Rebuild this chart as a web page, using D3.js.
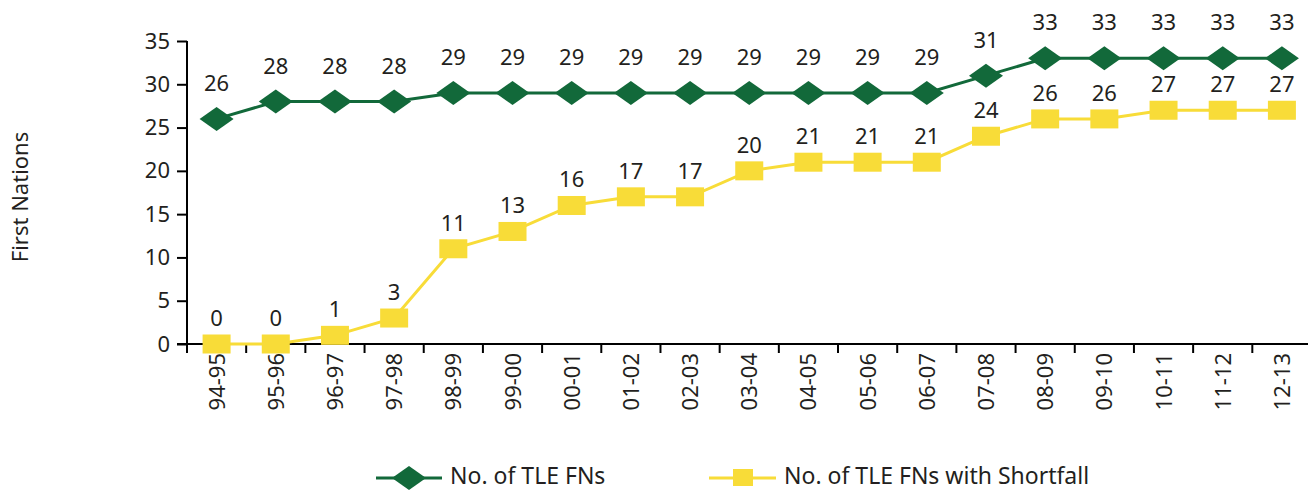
<!DOCTYPE html>
<html><head><meta charset="utf-8">
<script src="https://cdn.jsdelivr.net/npm/d3@7"></script>
<style>body{margin:0;background:#fff}svg{display:block;font-family:"Noto Sans",sans-serif}</style>
</head><body><svg id="c" width="1308" height="492"></svg>
<script>
const categories=["94-95","95-96","96-97","97-98","98-99","99-00","00-01","01-02","02-03","03-04","04-05","05-06","06-07","07-08","08-09","09-10","10-11","11-12","12-13"];
const tleFNs=[26,28,28,28,29,29,29,29,29,29,29,29,29,31,33,33,33,33,33];
const tleShortfall=[0,0,1,3,11,13,16,17,17,20,21,21,21,24,26,26,27,27,27];
const yTicks=[0,5,10,15,20,25,30,35];
const seriesNames=["No. of TLE FNs","No. of TLE FNs with Shortfall"];
const green="#12693a", yellow="#f8dc38", ink="#231f20";
const svg=d3.select("#c");
const x=d3.scaleBand().domain(categories).range([187,1311.5]).padding(0);
const y=d3.scaleLinear().domain([0,35]).range([344,41]);
const cx=d=>x(d)+x.bandwidth()/2;
// y axis
const ya=svg.append("g").attr("transform","translate(187,0)").call(d3.axisLeft(y).tickValues(yTicks).tickSize(10).tickPadding(7));
ya.select(".domain").attr("stroke","#000").attr("stroke-width",2).attr("d","M0,41V344");
ya.selectAll(".tick line").attr("stroke","#000").attr("stroke-width",2);
ya.selectAll("text").attr("font-size",22).attr("fill",ink).attr("font-family","Noto Sans");
// x axis
const xa=svg.append("g").attr("transform","translate(0,344)");
xa.append("line").attr("x1",177).attr("x2",1308).attr("stroke","#000").attr("stroke-width",2);
xa.selectAll("line.t").data(categories.concat(["__end"])).enter().append("line")
 .attr("x1",(d,i)=>187+i*x.bandwidth()).attr("x2",(d,i)=>187+i*x.bandwidth()).attr("y1",0).attr("y2",9).attr("stroke","#000").attr("stroke-width",2);
xa.selectAll("text").data(categories).enter().append("text")
 .attr("transform",d=>`translate(${cx(d)+8},9) rotate(-90)`).attr("text-anchor","end")
 .attr("font-size",22).attr("fill",ink).text(d=>d);
// y title
svg.append("text").attr("transform","translate(28,197) rotate(-90)").attr("text-anchor","middle").attr("font-size",22).attr("fill",ink).text("First Nations");
// lines
const line=d3.line().x((d,i)=>cx(categories[i])).y(d=>y(d));
svg.append("path").datum(tleFNs).attr("d",line).attr("fill","none").attr("stroke",green).attr("stroke-width",3);
svg.append("path").datum(tleShortfall).attr("d",line).attr("fill","none").attr("stroke",yellow).attr("stroke-width",3);
const diamond=(px,py)=>`M${px-17},${py}L${px},${py-12}L${px+17},${py}L${px},${py+12}Z`;
svg.selectAll("path.dm").data(tleFNs).enter().append("path").attr("d",(d,i)=>diamond(cx(categories[i]),y(d))).attr("fill",green);
svg.selectAll("rect.sq").data(tleShortfall).enter().append("rect")
 .attr("x",(d,i)=>cx(categories[i])-14).attr("y",d=>y(d)-9.5).attr("width",28).attr("height",19).attr("fill",yellow);
// labels
svg.selectAll("text.l1").data(tleFNs).enter().append("text").attr("x",(d,i)=>cx(categories[i])).attr("y",d=>y(d)-28)
 .attr("text-anchor","middle").attr("font-size",22).attr("fill",ink).text(d=>d);
svg.selectAll("text.l2").data(tleShortfall).enter().append("text").attr("x",(d,i)=>cx(categories[i])).attr("y",d=>y(d)-18)
 .attr("text-anchor","middle").attr("font-size",22).attr("fill",ink).text(d=>d);
// legend
const lg=svg.append("g");
lg.append("line").attr("x1",376).attr("x2",442).attr("y1",478).attr("y2",478).attr("stroke",green).attr("stroke-width",3);
lg.append("path").attr("d",diamond(409,478)).attr("fill",green);
lg.append("text").attr("x",450).attr("y",484).attr("font-size",23).attr("fill",ink).text(seriesNames[0]);
lg.append("line").attr("x1",709).attr("x2",776).attr("y1",478).attr("y2",478).attr("stroke",yellow).attr("stroke-width",3);
lg.append("rect").attr("x",733).attr("y",469).attr("width",20).attr("height",17).attr("fill",yellow);
lg.append("text").attr("x",784).attr("y",484).attr("font-size",23).attr("fill",ink).text(seriesNames[1]);
</script></body></html>
